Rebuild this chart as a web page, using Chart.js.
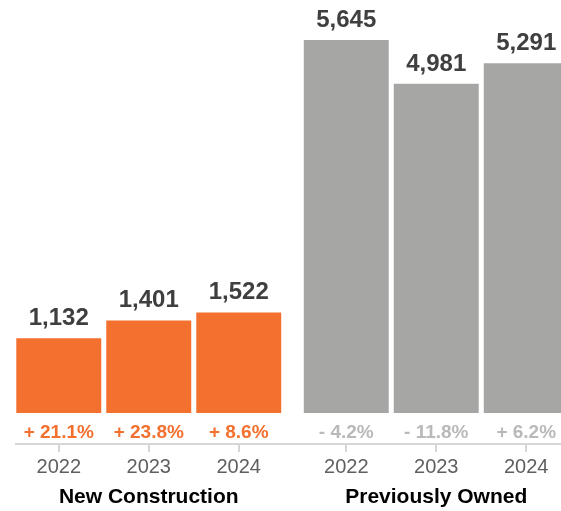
<!DOCTYPE html>
<html>
<head>
<meta charset="utf-8">
<script src="https://cdn.jsdelivr.net/npm/chart.js@4"></script>
<style>
  html, body { margin: 0; padding: 0; background: #fff; }
  #wrap { width: 561px; height: 511px; overflow: hidden; }
  #inner { width: 585px; height: 511px; position: relative; }
</style>
</head>
<body>
<div id="wrap"><div id="inner"><canvas id="mycanvas"></canvas></div></div>
<script>
var categories = ["New Construction", "Previously Owned"];
var years = ["2022", "2023", "2024"];
var newConstruction = [1132, 1401, 1522];
var previouslyOwned = [5645, 4981, 5291];
var newChange = [21.1, 23.8, 8.6];
var ownedChange = [-4.2, -11.8, 6.2];

var ORANGE = "#f3702f";
var GRAY = "#a6a6a5";
var FONT = "'Liberation Sans', Arial, Helvetica, sans-serif";

function fmtChange(v) {
	return (v < 0 ? "- " : "+ ") + Math.abs(v).toFixed(1) + "%";
}

// one dataset per year, so each category gets a group of three bars
var datasets = [];
for (var i = 0; i < years.length; i++) {
	datasets.push({
		label: years[i],
		data: [newConstruction[i], previouslyOwned[i]],
		change: [newChange[i], ownedChange[i]],
		backgroundColor: [ORANGE, GRAY],
		borderWidth: 0,
		categoryPercentage: 0.939,
		barPercentage: 0.944
	});
}

// value labels, change labels, axis line, ticks, year and category labels
var barLabels = {
	id: "barLabels",
	afterDatasetsDraw: function(chart) {
		var ctx = chart.ctx;
		var xScale = chart.scales.x;
		ctx.save();

		ctx.strokeStyle = "#d6d6d6";
		ctx.lineWidth = 2;
		ctx.beginPath();
		ctx.moveTo(15, 444);
		ctx.lineTo(chart.width, 444);
		ctx.stroke();

		chart.data.datasets.forEach(function(ds, i) {
			var meta = chart.getDatasetMeta(i);
			meta.data.forEach(function(bar, j) {
				ctx.textAlign = "center";

				ctx.font = "bold 24px " + FONT;
				ctx.fillStyle = "#3f3f3f";
				ctx.textBaseline = "alphabetic";
				ctx.fillText(ds.data[j].toLocaleString("en-US"), bar.x, bar.y - 13);

				ctx.font = "bold 19px " + FONT;
				ctx.fillStyle = j === 0 ? ORANGE : "#b9b9b9";
				ctx.textBaseline = "middle";
				ctx.fillText(fmtChange(ds.change[j]), bar.x, 433);

				ctx.beginPath();
				ctx.moveTo(Math.round(bar.x), 444);
				ctx.lineTo(Math.round(bar.x), 452);
				ctx.stroke();

				ctx.font = "20px " + FONT;
				ctx.fillStyle = "#5f5f5f";
				ctx.fillText(ds.label, bar.x, 467);
			});
		});

		ctx.font = "bold 21px " + FONT;
		ctx.fillStyle = "#000";
		ctx.textAlign = "center";
		ctx.textBaseline = "middle";
		chart.data.labels.forEach(function(label, j) {
			ctx.fillText(label, xScale.getPixelForValue(j), 497);
		});
		ctx.restore();
	}
};

var ctx = document.getElementById("mycanvas");

var barGraph = new Chart(ctx, {
	type: "bar",
	data: {
		labels: categories,
		datasets: datasets
	},
	options: {
		responsive: true,
		maintainAspectRatio: false,
		animation: false,
		events: [],
		layout: { padding: { left: 5, right: 5, top: 0, bottom: 98 } },
		plugins: {
			legend: { display: false },
			tooltip: { enabled: false }
		},
		scales: {
			x: {
				display: false
			},
			y: {
				display: false,
				min: 0,
				max: 6250
			}
		}
	},
	plugins: [barLabels]
});
</script>
</body>
</html>
